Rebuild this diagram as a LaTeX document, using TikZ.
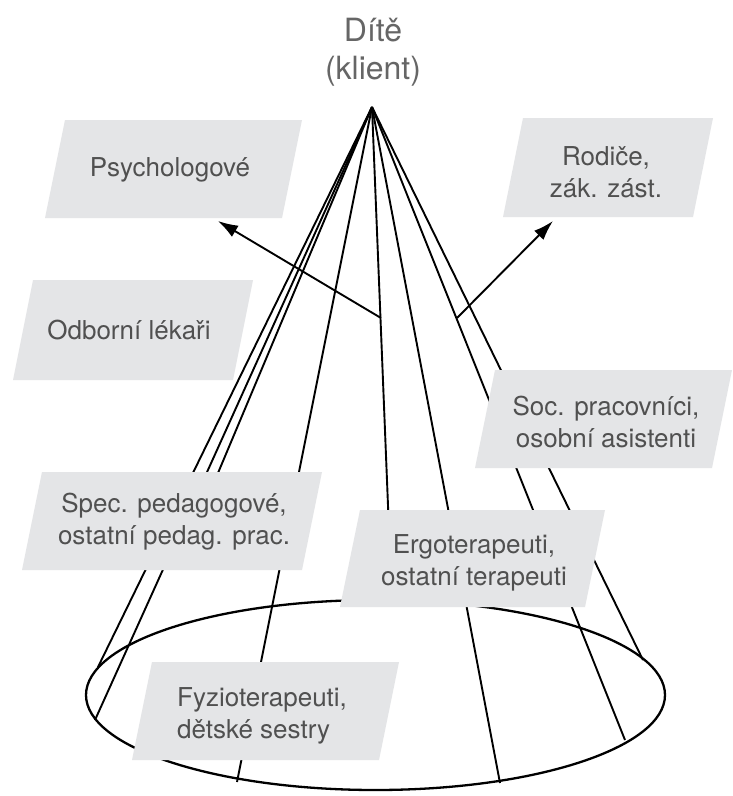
\documentclass[tikz,border=0pt]{standalone}
\usepackage{fontspec}
\setmainfont{TeX Gyre Heros}
\usetikzlibrary{arrows.meta}
\definecolor{boxgray}{HTML}{E4E5E7}
\definecolor{txtgray}{HTML}{505050}
\definecolor{titlegray}{HTML}{666666}
\begin{document}
\begin{tikzpicture}[x=1pt,y=-1pt,
  cone/.style={black, line width=1.9pt},
  rim/.style={black, line width=2.3pt},
  boxfill/.style={fill=boxgray},
  boxtext/.style={text=txtgray, font=\fontsize{26}{32}\selectfont, align=center, inner sep=0pt},
  pointer/.style={black, line width=1.9pt, -{Latex[length=20pt,width=13pt]}}]
\useasboundingbox[fill=white] (0,0) rectangle (732,796);

% base of the cone
\draw[rim] (375.5,695) ellipse [x radius=289.5pt, y radius=95pt];

% apex and line ends
\coordinate (apex) at (372,107);
\coordinate (e1) at (98,667);
\coordinate (e2) at (95,720);
\coordinate (e2b) at (210,492);
\coordinate (e3) at (237,782);
\coordinate (e4) at (392,605);
\coordinate (e5) at (500,783);
\coordinate (e6) at (625,740);
\coordinate (e7) at (643,660);
\foreach \e in {e1,e2,e2b,e3,e4,e5,e6,e7} \draw[cone] (apex) -- (\e);

% boxes
\fill[boxfill] (45,218) -- (282,218) -- (302,120) -- (65,120) -- cycle;
\fill[boxfill] (503,217) -- (693,217) -- (713,118) -- (523,118) -- cycle;
\fill[boxfill] (13,380) -- (233,380) -- (253,280) -- (33,280) -- cycle;
\fill[boxfill] (475,468) -- (712,468) -- (732,370) -- (495,370) -- cycle;
\fill[boxfill] (22,570) -- (302,570) -- (322,472) -- (42,472) -- cycle;
\fill[boxfill] (340,607) -- (585,607) -- (605,510) -- (360,510) -- cycle;
\fill[boxfill] (132,760) -- (379,760) -- (399,662) -- (152,662) -- cycle;

% texts
\node[font=\fontsize{32}{38}\selectfont, text=titlegray, align=center, inner sep=0pt] (child) at (373,52) {Dítě\\(klient)};
\node[boxtext] (psy) at (170,170) {Psychologové};
\node[boxtext] (rod) at (606,172) {Rodiče,\\zák. zást.};
\node[boxtext] (odb) at (129,330) {Odborní lékaři};
\node[boxtext] (soc) at (606,422) {Soc. pracovníci,\\osobní asistenti};
\node[boxtext] (spe) at (174,522) {Spec. pedagogové,\\ostatní pedag. prac.};
\node[boxtext] (erg) at (474,563) {Ergoterapeuti,\\ostatní terapeuti};
\node[boxtext, align=left, anchor=west] (fyz) at (177,716) {Fyzioterapeuti,\\dětské sestry};

% arrows
\coordinate (s1) at (381,318);
\coordinate (s2) at (457,318);
\coordinate (t1) at (218,221);
\coordinate (t2) at (553,221);
\draw[pointer] (s1) -- (t1);
\draw[pointer] (s2) -- (t2);
\end{tikzpicture}
\end{document}
